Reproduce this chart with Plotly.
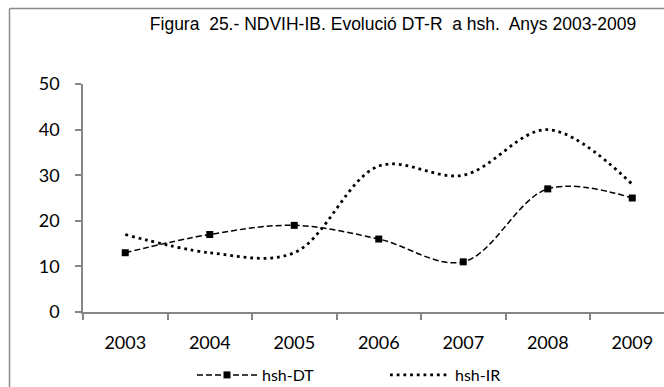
import plotly.graph_objects as go

# Chart data
years = ["2003", "2004", "2005", "2006", "2007", "2008", "2009"]
hsh_dt = [13, 17, 19, 16, 11, 27, 25]
hsh_ir = [17, 13, 13, 32, 30, 40, 28]
y_ticks = [0, 10, 20, 30, 40, 50]

title_text = "Figura  25.- NDVIH-IB. Evolució DT-R  a hsh.  Anys 2003-2009"

W, H = 664, 387
ML, MT, MB = 83, 84, 75
plot_w = W - ML
cat_w = 84.5
x_end = -0.5 + plot_w / cat_w

axis_col = "#868686"
tick_font = dict(family="Lato, Open Sans, sans-serif", size=18, color="#000000")

fig = go.Figure()

fig.add_trace(go.Scatter(
    x=years, y=hsh_dt, name="hsh-DT", mode="lines+markers",
    line=dict(color="#000000", width=1.5, dash="6px,3px", shape="spline", smoothing=1),
    marker=dict(symbol="square", size=7, color="#000000"),
))
fig.add_trace(go.Scatter(
    x=years, y=hsh_ir, name="hsh-IR", mode="lines",
    line=dict(color="#000000", width=2.8, dash="2.8px,3.9px", shape="spline", smoothing=1),
))

# outer frame of the chart area (left and top edges)
px = lambda v: (v - ML) / plot_w
py = lambda v: (H - MB - v) / (H - MT - MB)
fig.add_shape(type="line", xref="paper", yref="paper",
              x0=px(9.5), x1=px(W + 5), y0=py(8.5), y1=py(8.5),
              line=dict(color="#8c8c8c", width=1.5))
fig.add_shape(type="line", xref="paper", yref="paper",
              x0=px(9.5), x1=px(9.5), y0=py(8.5), y1=py(H + 5),
              line=dict(color="#8c8c8c", width=1.5))

fig.update_layout(
    width=W, height=H,
    margin=dict(l=ML, r=0, t=MT, b=MB, pad=0, autoexpand=False),
    paper_bgcolor="#ffffff", plot_bgcolor="#ffffff",
    title=dict(text=title_text, x=px(393), xanchor="center", xref="paper",
               y=1 - 24 / H, yanchor="middle",
               font=dict(family="Liberation Sans Narrow, Arial Narrow, Liberation Sans, Arial", size=17.5, color="#000000")),
    showlegend=True,
    legend=dict(orientation="h", x=px(192), xanchor="left", y=py(375), yanchor="middle",
                font=dict(family="Lato, Open Sans, sans-serif", size=16, color="#000000"),
                itemwidth=60, entrywidth=118, bgcolor="rgba(0,0,0,0)"),
)

fig.update_xaxes(
    type="category", range=[-0.5, x_end], tickson="boundaries", automargin=False,
    showline=True, linecolor=axis_col, linewidth=1.5,
    ticks="outside", ticklen=6, tickcolor=axis_col, tickwidth=1.5,
    showgrid=False, zeroline=False, tickfont=tick_font, ticklabelstandoff=14,
)
fig.update_yaxes(
    range=[0, 50], tickvals=y_ticks, automargin=False,
    showline=True, linecolor=axis_col, linewidth=1.5,
    ticks="outside", ticklen=6, tickcolor=axis_col, tickwidth=1.5,
    showgrid=False, zeroline=False, tickfont=tick_font, ticklabelstandoff=12,
)

fig.write_html("out.html")
